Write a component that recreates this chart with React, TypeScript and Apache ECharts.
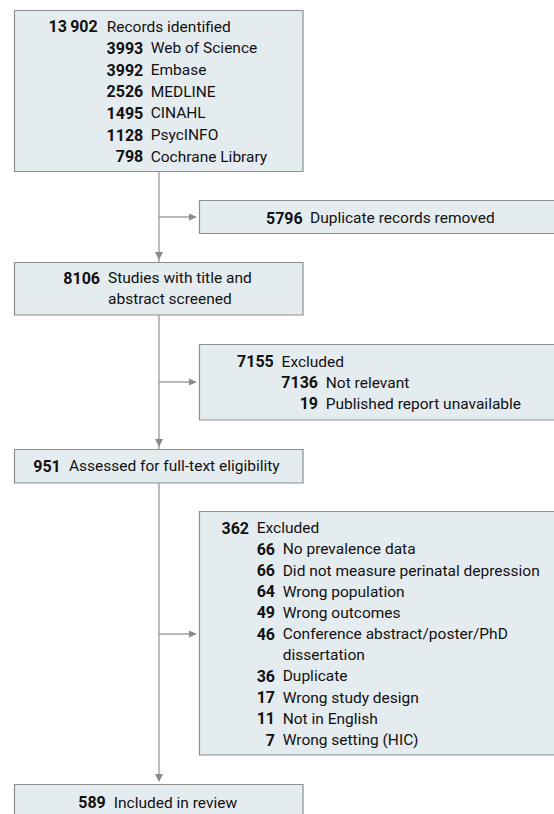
import React, { useEffect, useRef } from "react";
import * as echarts from "echarts";

// ---- data ----
const identifiedTotal = 13902;
const sourceCounts = [3993, 3992, 2526, 1495, 1128, 798];
const sourceNames = ["Web of Science", "Embase", "MEDLINE", "CINAHL", "PsycINFO", "Cochrane Library"];
const duplicatesRemoved = 5796;
const screenedTotal = 8106;
const screenedLabel = ["Studies with title and", "abstract screened"];
const excluded1Total = 7155;
const excluded1Counts = [7136, 19];
const excluded1Reasons = ["Not relevant", "Published report unavailable"];
const assessedTotal = 951;
const excluded2Total = 362;
const excluded2Counts = [66, 66, 64, 49, 46, 36, 17, 11, 7];
const excluded2Reasons = [
  "No prevalence data",
  "Did not measure perinatal depression",
  "Wrong population",
  "Wrong outcomes",
  "Conference abstract/poster/PhD\ndissertation",
  "Duplicate",
  "Wrong study design",
  "Not in English",
  "Wrong setting (HIC)",
];
const includedTotal = 589;

// ---- style ----
const FONT = "Roboto, 'Noto Sans', sans-serif";
const TEXT = "#111111";
const BOX_FILL = "#e5ecf0";
const BOX_STROKE = "#8e8e8e";
const TRUNK = "#bdbdbd";
const ARROW = "#8a8a8a";
const NUM_SIZE = 16;
const LBL_SIZE = 15.5;

const fmt = (n: number) => {
  const s = String(n);
  if (s.length < 5) return s;
  return s.slice(0, s.length - 3) + "\u2009" + s.slice(s.length - 3);
};

function numText(x: number, y: number, v: number): any {
  return {
    type: "text",
    z: 10,
    style: {
      x, y,
      text: fmt(v),
      fill: TEXT,
      fontFamily: FONT,
      fontSize: NUM_SIZE,
      fontWeight: "bold",
      align: "right",
      verticalAlign: "middle",
      textAlign: "right",
      textVerticalAlign: "middle",
    },
  };
}
function lblText(x: number, y: number, t: string): any {
  return {
    type: "text",
    z: 10,
    style: {
      x, y,
      text: t,
      fill: TEXT,
      fontFamily: FONT,
      fontSize: LBL_SIZE,
      fontWeight: "normal",
      align: "left",
      verticalAlign: "middle",
      textAlign: "left",
      textVerticalAlign: "middle",
    },
  };
}
function box(x: number, y: number, w: number, h: number): any {
  return {
    type: "rect",
    z: 5,
    shape: { x, y, width: w, height: h },
    style: { fill: BOX_FILL, stroke: BOX_STROKE, lineWidth: 1.2 },
  };
}
function line(x1: number, y1: number, x2: number, y2: number, color: string, w: number): any {
  return {
    type: "line",
    z: 2,
    shape: { x1, y1, x2, y2 },
    style: { stroke: color, lineWidth: w },
  };
}
function tri(points: number[][]): any {
  return { type: "polygon", z: 3, shape: { points }, style: { fill: ARROW } };
}

function rows(
  startY: number,
  step: number,
  items: { n: number | null; t: string; lvl: number }[],
  cols: { numR: number; lbl: number }[]
) {
  const els: any[] = [];
  let r = 0;
  items.forEach((it) => {
    const parts = it.t.split("\n");
    const c = cols[it.lvl];
    parts.forEach((p, i) => {
      const y = startY + step * r;
      if (i === 0 && it.n !== null) els.push(numText(c.numR, y, it.n));
      els.push(lblText(c.lbl, y, p));
      r++;
    });
  });
  return els;
}

export default function App() {
  const ref = useRef<HTMLDivElement>(null);
  useEffect(() => {
    if (!ref.current) return;
    const chart = echarts.init(ref.current, undefined, { renderer: "svg" });
    const trunkX = 159;
    const leftX = 14.5, leftW = 288.5;
    const rightX = 199.5, rightW = 370;
    const els: any[] = [];

    els.push(line(trunkX, 171, trunkX, 778, TRUNK, 2));
    [262, 449, 784].forEach((yt) => {
      els.push(tri([[trunkX - 4, yt - 10], [trunkX + 4, yt - 10], [trunkX, yt - 2]]));
    });
    [217, 382, 634].forEach((ya) => {
      els.push(line(trunkX, ya, 191, ya, ARROW, 1.2));
      els.push(tri([[189, ya - 3.5], [189, ya + 3.5], [197, ya]]));
    });

    els.push(box(leftX, 10.5, leftW, 161));
    els.push(box(rightX, 200.5, rightW, 33));
    els.push(box(leftX, 262.5, leftW, 52.5));
    els.push(box(rightX, 344.5, rightW, 75.5));
    els.push(box(leftX, 449.5, leftW, 33.5));
    els.push(box(rightX, 511.5, rightW, 243.5));
    els.push(box(leftX, 784.5, leftW, 34));

    els.push(
      ...rows(
        26.7,
        21.67,
        [
          { n: identifiedTotal, t: "Records identified", lvl: 0 },
          ...sourceCounts.map((n, i) => ({ n, t: sourceNames[i], lvl: 1 })),
        ],
        [
          { numR: 97.7, lbl: 106.7 },
          { numR: 143.3, lbl: 150.7 },
        ]
      )
    );
    els.push(numText(302.7, 218, duplicatesRemoved));
    els.push(lblText(310, 218, "Duplicate records removed"));
    els.push(numText(100, 278, screenedTotal));
    els.push(lblText(108, 278, screenedLabel[0]));
    els.push(lblText(108, 299.3, screenedLabel[1]));
    els.push(
      ...rows(
        361.7,
        21,
        [
          { n: excluded1Total, t: "Excluded", lvl: 0 },
          ...excluded1Counts.map((n, i) => ({ n, t: excluded1Reasons[i], lvl: 1 })),
        ],
        [
          { numR: 273.8, lbl: 281.6 },
          { numR: 318, lbl: 325.8 },
        ]
      )
    );
    els.push(numText(60.8, 466.3, assessedTotal));
    els.push(lblText(68.9, 466.3, "Assessed for full-text eligibility"));
    els.push(
      ...rows(
        528.3,
        21.17,
        [
          { n: excluded2Total, t: "Excluded", lvl: 0 },
          ...excluded2Counts.map((n, i) => ({ n, t: excluded2Reasons[i], lvl: 1 })),
        ],
        [
          { numR: 249, lbl: 256.7 },
          { numR: 275, lbl: 282.7 },
        ]
      )
    );
    els.push(numText(105.8, 802.5, includedTotal));
    els.push(lblText(113.8, 802.5, "Included in review"));

    chart.setOption({
      animation: false,
      graphic: { elements: els },
    });
    return () => chart.dispose();
  }, []);
  return (
    <div
      ref={ref}
      style={{ position: "absolute", left: 0, top: 0, width: 554, height: 814, background: "#ffffff" }}
    />
  );
}
